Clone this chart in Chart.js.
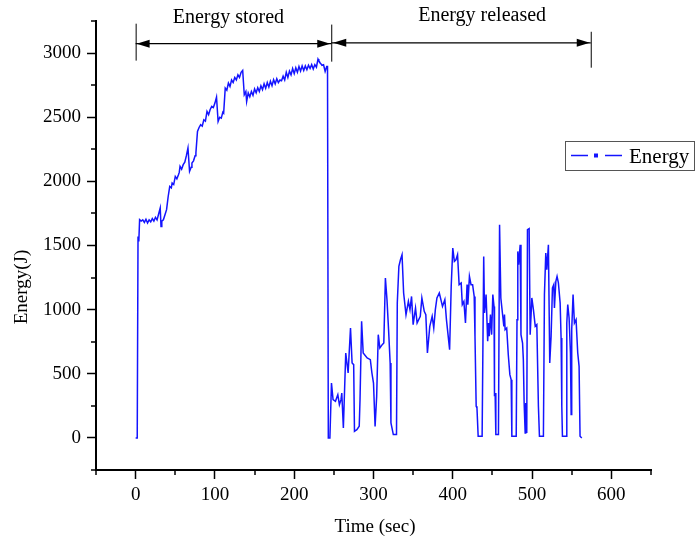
<!DOCTYPE html>
<html>
<head>
<meta charset="utf-8">
<script src="https://cdn.jsdelivr.net/npm/chart.js@4.4.1/dist/chart.umd.min.js"></script>
<style>
  html, body { margin: 0; padding: 0; background: #fff; }
  #wrap { width: 695px; height: 541px; }
</style>
</head>
<body>
<div id="wrap"><canvas id="energyChart" width="695" height="541"></canvas></div>
<script>
// charging phase (sec, J)
const storedTime = [0, 2, 3, 4, 5, 7, 9, 11, 13, 15, 17, 19, 21, 23, 25, 27, 29, 31, 32, 33, 35, 37, 39, 41, 43, 45, 46, 48, 50, 52, 54, 55, 56, 58, 60, 62, 64, 66, 68, 70, 71, 73, 75, 76, 78, 80, 82, 84, 86, 88, 90, 92, 94, 96, 98, 100, 102, 104, 106, 108, 110, 111, 113, 115, 117, 119, 121, 123, 125, 127, 129, 131, 133, 135, 137, 139, 140, 142, 144, 146, 148, 150, 152, 154, 156, 158, 160, 162, 164, 166, 168, 170, 172, 174, 176, 178, 180, 182, 184, 186, 188, 190, 192, 194, 196, 198, 200, 202, 204, 206, 208, 210, 212, 214, 216, 218, 220, 222, 224, 226, 228, 230, 231, 233, 235, 237, 239, 241, 242, 243];
const storedEnergy = [0, 0, 1571, 1532, 1701, 1690, 1700, 1680, 1705, 1675, 1700, 1685, 1710, 1690, 1720, 1700, 1745, 1792, 1649, 1690, 1701, 1740, 1779, 1880, 1961, 1950, 1987, 1975, 2039, 2020, 2052, 2070, 2117, 2095, 2130, 2150, 2200, 2260, 2078, 2110, 2143, 2160, 2200, 2221, 2389, 2420, 2441, 2430, 2480, 2470, 2545, 2520, 2560, 2584, 2575, 2610, 2657, 2467, 2500, 2493, 2540, 2532, 2727, 2710, 2766, 2740, 2790, 2770, 2810, 2790, 2831, 2810, 2850, 2865, 2675, 2700, 2623, 2690, 2660, 2700, 2670, 2720, 2690, 2730, 2700, 2745, 2715, 2760, 2725, 2770, 2735, 2780, 2745, 2792, 2760, 2800, 2770, 2790, 2785, 2820, 2790, 2850, 2810, 2860, 2830, 2880, 2840, 2885, 2850, 2895, 2860, 2900, 2865, 2900, 2870, 2905, 2880, 2910, 2875, 2910, 2890, 2953, 2940, 2922, 2905, 2909, 2857, 2896, 2896, 0];

// discharging phase (sec, J)
const releasedTime = [245, 247, 249, 252, 255, 257, 259, 260, 262, 265, 268, 271, 273, 275, 276, 279, 282, 283, 285, 287, 292, 296, 298, 300, 302, 304, 306, 308, 311, 313, 315, 317, 319, 321, 322, 325, 329, 330, 332, 334, 336, 338, 341, 344, 346, 348, 350, 353, 355, 359, 361, 364, 366, 368, 371, 374, 376, 378, 380, 383, 385, 387, 390, 392, 396, 398, 400, 402, 404, 406, 408, 410.6, 412, 414, 416, 418, 419, 421, 423, 425, 427, 428, 429.5, 430.5, 432, 437, 439, 440, 442, 444, 445, 446, 447.5, 449, 450.5, 452, 452.6, 453.4, 454.3, 457.6, 459, 460.6, 462.6, 464.4, 465.2, 466, 468, 470, 472, 473.6, 474.5, 480, 481, 482, 483, 485, 486, 488, 489, 490, 491.3, 492, 493.3, 494.2, 496.3, 497.6, 499.7, 501.7, 504, 506, 508, 509.3, 514.3, 515.6, 517.3, 518.6, 520.6, 522.3, 524, 525.7, 527.4, 528.2, 530, 531.5, 533.2, 535.4, 536.6, 537.5, 538.3, 543, 543.8, 545, 546.7, 548.4, 549.3, 550, 551.7, 553.4, 555.5, 557.6, 559.3, 560.5, 562.7];
const releasedEnergy = [0, 428, 298, 285, 337, 259, 298, 350, 78, 662, 506, 857, 584, 571, 52, 65, 91, 298, 909, 662, 623, 610, 506, 428, 90, 324, 805, 701, 727, 740, 1247, 1078, 844, 584, 117, 26, 26, 1052, 1337, 1389, 1428, 1130, 961, 1064, 1000, 1103, 883, 1013, 896, 948, 1091, 987, 961, 662, 870, 948, 857, 1000, 1091, 1130, 1078, 1025, 1078, 922, 688, 1181, 1480, 1376, 1389, 1428, 1195, 1208, 1039, 1064, 896, 1195, 1039, 1259, 1195, 1195, 1103, 792, 246, 234, 13, 13, 1415, 974, 1117, 753, 896, 792, 961, 805, 1117, 1025, 324, 351, 26, 26, 1662, 1091, 974, 870, 961, 844, 857, 649, 493, 454, 13, 13, 922, 1454, 1350, 1506, 805, 740, 610, 273, 39, 273, 39, 1623, 1631, 805, 1091, 1000, 870, 883, 246, 13, 13, 1117, 1441, 1312, 1506, 584, 792, 1169, 1195, 1013, 1221, 1259, 1208, 1052, 779, 246, 13, 13, 896, 1039, 935, 662, 182, 844, 1117, 896, 922, 662, 558, 13, 0];

const xTickLabels = [0, 100, 200, 300, 400, 500, 600];
const yTickLabels = [0, 500, 1000, 1500, 2000, 2500, 3000];
const phaseLabels = ["Energy stored", "Energy released"];
const phaseBounds = [0, 246.7, 574];

const SERIF = "'Liberation Serif', 'Times New Roman', serif";
const BLUE = "#1414ff";

const points = storedTime.map((t, i) => ({ x: t, y: storedEnergy[i] }))
  .concat(releasedTime.map((t, i) => ({ x: t, y: releasedEnergy[i] })));

function arrowHead(ctx, x, y, dir) {
  ctx.beginPath();
  ctx.moveTo(x, y);
  ctx.lineTo(x - dir * 13, y - 4);
  ctx.lineTo(x - dir * 13, y + 4);
  ctx.closePath();
  ctx.fill();
}

const extras = {
  id: "extras",
  afterDraw(chart) {
    const { ctx } = chart;
    const x = chart.scales.x;
    const y = chart.scales.y;
    const area = chart.chartArea;
    ctx.save();

    // minor ticks
    ctx.strokeStyle = "#000";
    ctx.lineWidth = 1.5;
    for (let v = -50; v <= 650; v += 100) {
      const px = Math.round(x.getPixelForValue(v));
      ctx.beginPath();
      ctx.moveTo(px, area.bottom);
      ctx.lineTo(px, area.bottom + 5);
      ctx.stroke();
    }
    for (let v = -250; v <= 3250; v += 500) {
      const py = Math.round(y.getPixelForValue(v));
      ctx.beginPath();
      ctx.moveTo(area.left, py);
      ctx.lineTo(area.left - 5, py);
      ctx.stroke();
    }

    // axis titles
    ctx.fillStyle = "#000";
    ctx.font = "19px " + SERIF;
    ctx.textAlign = "center";
    ctx.textBaseline = "middle";
    ctx.fillText("Time (sec)", 375, 527);
    ctx.save();
    ctx.translate(22, 287);
    ctx.rotate(-Math.PI / 2);
    ctx.fillText("Energy(J)", 0, 0);
    ctx.restore();

    // phase brackets
    const bx = phaseBounds.map((v) => x.getPixelForValue(v));
    ctx.lineWidth = 1;
    ctx.strokeStyle = "#000";
    [[3229, 2941], [3222, 2933], [3166, 2886]].forEach((r, i) => {
      ctx.beginPath();
      ctx.moveTo(bx[i] + 0.5, y.getPixelForValue(r[0]));
      ctx.lineTo(bx[i] + 0.5, y.getPixelForValue(r[1]));
      ctx.stroke();
    });
    const ay1 = y.getPixelForValue(3073);
    const ay2 = y.getPixelForValue(3080);
    ctx.lineWidth = 1.2;
    ctx.beginPath();
    ctx.moveTo(bx[0], ay1);
    ctx.lineTo(bx[1], ay1);
    ctx.moveTo(bx[1], ay2);
    ctx.lineTo(bx[2], ay2);
    ctx.stroke();
    ctx.fillStyle = "#000";
    arrowHead(ctx, bx[0] + 1, ay1, -1);
    arrowHead(ctx, bx[1] - 1, ay1, 1);
    arrowHead(ctx, bx[1] + 2, ay2, -1);
    arrowHead(ctx, bx[2] - 1, ay2, 1);

    ctx.font = "20px " + SERIF;
    ctx.fillText(phaseLabels[0], x.getPixelForValue(117), 18);
    ctx.fillText(phaseLabels[1], x.getPixelForValue(437), 16);

    // legend
    ctx.strokeStyle = "#555";
    ctx.lineWidth = 1;
    ctx.strokeRect(565.5, 141.5, 129, 29);
    ctx.strokeStyle = BLUE;
    ctx.lineWidth = 1.5;
    ctx.beginPath();
    ctx.moveTo(571, 155.5);
    ctx.lineTo(588, 155.5);
    ctx.moveTo(605, 155.5);
    ctx.lineTo(622, 155.5);
    ctx.stroke();
    ctx.fillStyle = BLUE;
    ctx.fillRect(594, 153.5, 4, 4);
    ctx.fillStyle = "#000";
    ctx.font = "21px " + SERIF;
    ctx.textAlign = "left";
    ctx.textBaseline = "alphabetic";
    ctx.fillText(chart.data.datasets[0].label, 629, 163);

    ctx.restore();
  }
};

new Chart(document.getElementById("energyChart"), {
  type: "line",
  data: {
    datasets: [
      {
        label: "Energy",
        data: points,
        borderColor: BLUE,
        borderWidth: 1.5,
        pointRadius: 0,
        tension: 0,
        fill: false,
      },
    ],
  },
  options: {
    responsive: false,
    animation: false,
    layout: { padding: { top: 21, right: 44, left: 0, bottom: 0 } },
    plugins: {
      legend: { display: false },
      tooltip: { enabled: false },
    },
    scales: {
      x: {
        type: "linear",
        min: -50,
        max: 650,
        afterFit: (scale) => { scale.height = 71; },
        border: { display: true, color: "#000", width: 2 },
        grid: {
          drawOnChartArea: false,
          tickLength: 9,
          tickWidth: 1.5,
          tickColor: (c) => (xTickLabels.includes(c.tick.value) ? "#000" : "rgba(0,0,0,0)"),
        },
        ticks: {
          stepSize: 50,
          autoSkip: false,
          maxRotation: 0,
          padding: 5,
          color: "#000",
          font: { family: SERIF, size: 19 },
          callback: (v) => (xTickLabels.includes(v) ? String(v) : ""),
        },
      },
      y: {
        min: -250,
        max: 3250,
        afterFit: (scale) => { scale.width = 96; },
        border: { display: true, color: "#000", width: 2 },
        grid: {
          drawOnChartArea: false,
          tickLength: 9,
          tickWidth: 1.5,
          tickColor: (c) => (yTickLabels.includes(c.tick.value) ? "#000" : "rgba(0,0,0,0)"),
        },
        ticks: {
          stepSize: 250,
          autoSkip: false,
          padding: 6,
          color: "#000",
          font: { family: SERIF, size: 19 },
          callback: (v) => (yTickLabels.includes(v) ? String(v) : ""),
        },
      },
    },
  },
  plugins: [extras],
});
</script>
</body>
</html>
